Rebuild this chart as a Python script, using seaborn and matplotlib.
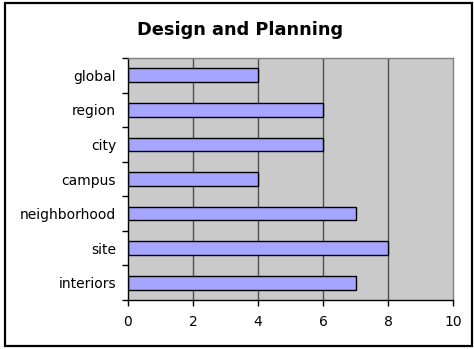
import matplotlib
matplotlib.use("Agg")
import matplotlib.pyplot as plt
import seaborn as sns
import pandas as pd
from matplotlib.patches import Rectangle
from matplotlib.ticker import FixedLocator

categories = ["global", "region", "city", "campus", "neighborhood", "site", "interiors"]
values = [4, 6, 6, 4, 7, 8, 7]
x_ticks = [0, 2, 4, 6, 8, 10]
title = "Design and Planning"

df = pd.DataFrame({"category": categories, "value": values})

sns.set_style("white")
plt.rcParams["font.family"] = ["DejaVu Sans"]
plt.rcParams["text.color"] = "black"
plt.rcParams["xtick.color"] = "black"
plt.rcParams["ytick.color"] = "black"
plt.rcParams["xtick.labelcolor"] = "black"
plt.rcParams["ytick.labelcolor"] = "black"

fig = plt.figure(figsize=(4.74, 3.49), dpi=100)
ax = fig.add_axes([128/474, 1-300/349, (453-128)/474, (300-58)/349])
ax.set_facecolor("#CACACA")

sns.barplot(data=df, x="value", y="category", orient="h", width=0.4,
            color="#A6A6FF", edgecolor="black", linewidth=1.0, saturation=1, ax=ax)

ax.set_xlim(0, 10)
ax.set_ylim(len(categories)-0.5, -0.5)
ax.set_xticks(x_ticks)
ax.set_xticklabels([str(t) for t in x_ticks], fontsize=10, color="black")
ax.tick_params(axis="x", length=4, width=1, color="black", direction="out", pad=6.5, bottom=True)
ax.tick_params(axis="y", length=0, pad=8.5, labelsize=10, labelcolor="black")
ax.yaxis.set_minor_locator(FixedLocator([i - 0.5 for i in range(len(categories)+1)]))
ax.tick_params(axis="y", which="minor", length=4, width=1, color="black", left=True)
ax.set_xlabel("")
ax.set_ylabel("")

for t in x_ticks[1:-1]:
    ax.axvline(t, color="#505050", linewidth=1, zorder=0.5)
ax.set_axisbelow(True)

for s in ["left", "bottom"]:
    ax.spines[s].set_color("black")
    ax.spines[s].set_linewidth(1)
for s in ["top", "right"]:
    ax.spines[s].set_color("#808080")
    ax.spines[s].set_linewidth(1)

fig.text(240/474, 1-30/349, title, ha="center", va="center", fontsize=12.8,
         fontweight="bold", color="black")

fig.patches.append(Rectangle((5/474, 3/349), 467/474, 343/349, transform=fig.transFigure,
                             fill=False, edgecolor="black", linewidth=1.6))

fig.savefig("out.png", dpi=100)
